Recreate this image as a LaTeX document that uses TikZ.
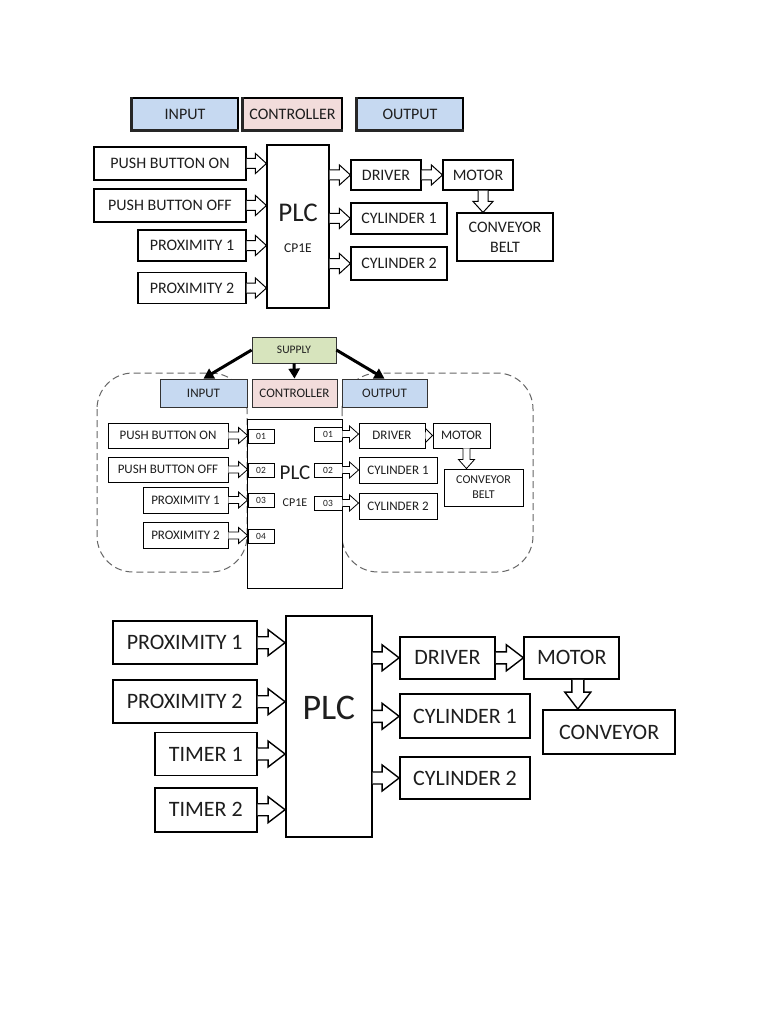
\documentclass[tikz,border=0pt]{standalone}
\usepackage{fontspec}
\setmainfont{Carlito}
\usetikzlibrary{calc,arrows.meta}
\definecolor{hblue}{HTML}{C6D9F1}
\definecolor{hpink}{HTML}{F2DCDB}
\definecolor{hgreen}{HTML}{D7E4BD}
\definecolor{txt}{HTML}{1E1E1E}
\newcommand\fsz[1]{\fontsize{#1}{#1}\selectfont}
% right-pointing hollow block arrow: [opts] from, to, shaft half, head half, head length
\newcommand{\rarr}[6][]{\draw[blk,#1] let \p1=(#2), \p2=(#3) in
  (\x1,\y1+#4) -- (\x2-#6,\y1+#4) -- (\x2-#6,\y1+#5) -- (\x2,\y1) -- (\x2-#6,\y1-#5) -- (\x2-#6,\y1-#4) -- (\x1,\y1-#4);}
% down-pointing hollow block arrow
\newcommand{\darr}[6][]{\draw[blk,#1] let \p1=(#2), \p2=(#3) in
  (\x1-#4,\y1) -- (\x1-#4,\y2+#6) -- (\x1-#5,\y2+#6) -- (\x1,\y2) -- (\x1+#5,\y2+#6) -- (\x1+#4,\y2+#6) -- (\x1+#4,\y1);}
\begin{document}
\begin{tikzpicture}[x=1pt,y=-1pt,
  every node/.style={text=txt},
  bx/.style={draw=black, fill=white, inner sep=0pt, line width=1.1pt},
  tb/.style={bx, font=\fsz{16}},
  mb/.style={bx, line width=0.9pt, font=\fsz{13}},
  hb/.style={bx, draw=black!80, line width=0.8pt, font=\fsz{13}},
  bb/.style={bx, line width=1.8pt, font=\fsz{22}},
  port/.style={bx, line width=0.8pt, minimum width=26pt, minimum height=14pt, font=\fsz{9.5}},
  blk/.style={draw=black, fill=white, line width=1pt, line join=miter},
  shade/.style={draw=black!85, line width=2.2pt},
  reg/.style={draw=black!60, dash pattern=on 7pt off 4pt, line width=1pt, rounded corners=36pt},
  sup/.style={draw=black, line width=3pt, -{Triangle[length=10pt,width=11pt]}}]
\useasboundingbox (0,0) rectangle (768,1024);
\fill[white] (0,0) rectangle (768,1024);

% ---------------- top diagram ----------------
\node[tb, fill=hblue, minimum width=106pt, minimum height=32pt] (hin) at (185,114) {INPUT};
\node[tb, fill=hpink, minimum width=99pt, minimum height=32pt] (hctl) at (292.5,114) {CONTROLLER};
\node[tb, fill=hblue, minimum width=106pt, minimum height=32pt] (hout) at (410,114) {OUTPUT};
\foreach \h in {hin,hctl,hout} {\draw[shade] (\h.north west) -- (\h.south west) -- (\h.south east);}

\node[tb, minimum width=152pt, minimum height=33pt] (pbon) at (170,163.5) {PUSH BUTTON ON};
\node[tb, minimum width=152pt, minimum height=33pt] (pboff) at (170,205.5) {PUSH BUTTON OFF};
\node[tb, minimum width=108pt, minimum height=31pt] (prox1) at (192,245.5) {PROXIMITY 1};
\node[tb, minimum width=108pt, minimum height=31pt] (prox2) at (192,288) {PROXIMITY 2};
\node[tb, minimum width=62pt, minimum height=163pt] (plc) at (298,226.5) {};
\node[font=\fsz{27}] (plct) at (298,213) {PLC};
\node[font=\fsz{13.5}] (plcs) at (298,248) {CP1E};
\node[tb, minimum width=70pt, minimum height=30pt] (drv) at (386,175) {DRIVER};
\node[tb, minimum width=70pt, minimum height=30pt] (mot) at (478,175) {MOTOR};
\node[tb, minimum width=96pt, minimum height=31pt] (cyl1) at (399,218.5) {CYLINDER 1};
\node[tb, minimum width=96pt, minimum height=33pt] (cyl2) at (399,263.5) {CYLINDER 2};
\node[tb, minimum width=96pt, minimum height=48pt, align=center] (conv) at (505,237) {CONVEYOR\\[4pt]BELT};

\foreach \s in {pbon,pboff,prox1,prox2} {\rarr{\s.east}{plc.west}{5pt}{10pt}{11pt}}
\foreach \t in {drv,cyl1,cyl2} {\rarr{plc.east |- \t.west}{\t.west}{5pt}{10pt}{11pt}}
\rarr{drv.east}{mot.west}{5pt}{10pt}{11pt}
\darr{[xshift=5pt]mot.south}{[xshift=5pt]mot.south |- conv.north}{5pt}{10pt}{11pt}

% ---------------- middle diagram ----------------
\draw[reg] (97,373) rectangle (247,572);
\draw[reg] (342,373) rectangle (533,572);
\node[mb, minimum width=95pt, minimum height=169pt] (mplc) at (294.5,503.5) {};
\node[font=\fsz{21}] (mplct) at (295,473) {PLC};
\node[font=\fsz{12}] (mplcs) at (295,503) {CP1E};
\node[hb, fill=hgreen, minimum width=84pt, minimum height=26pt, font=\fsz{11.5}] (supply) at (294,350) {SUPPLY};
\node[hb, fill=hblue, minimum width=87pt, minimum height=28pt] (min) at (203.5,393) {INPUT};
\node[hb, fill=hpink, minimum width=85pt, minimum height=28pt] (mctl) at (294.5,393) {CONTROLLER};
\node[hb, fill=hblue, minimum width=85pt, minimum height=28pt] (mout) at (384.5,393) {OUTPUT};

\draw[sup] (supply.west) -- (min.north);
\draw[sup] (supply.south) -- (mctl.north);
\draw[sup] (supply.east) -- (mout.north);

\node[port] (i1) at (261,436) {01};
\node[port] (i2) at (261,470) {02};
\node[port] (i3) at (261,500) {03};
\node[port] (i4) at (261,536) {04};
\node[port, minimum width=28pt] (o1) at (328,434) {01};
\node[port, minimum width=28pt] (o2) at (328,470) {02};
\node[port, minimum width=28pt] (o3) at (328,503) {03};

\node[mb, minimum width=120pt, minimum height=25pt] (mpbon) at (168,435.5) {PUSH BUTTON ON};
\node[mb, minimum width=120pt, minimum height=25pt] (mpboff) at (168,469.5) {PUSH BUTTON OFF};
\node[mb, minimum width=85pt, minimum height=26pt] (mprox1) at (185.5,500) {PROXIMITY 1};
\node[mb, minimum width=85pt, minimum height=26pt] (mprox2) at (185.5,535.5) {PROXIMITY 2};
\node[mb, minimum width=66pt, minimum height=25pt] (mdrv) at (392,435.5) {DRIVER};
\node[mb, minimum width=57pt, minimum height=25pt] (mmot) at (461.5,435.5) {MOTOR};
\node[mb, minimum width=78pt, minimum height=26pt] (mcyl1) at (398,470) {CYLINDER 1};
\node[mb, minimum width=78pt, minimum height=26pt] (mcyl2) at (398,506) {CYLINDER 2};
\node[mb, minimum width=79pt, minimum height=37pt, align=center, font=\fsz{12}] (mconv) at (483.5,487.5) {CONVEYOR\\[3pt]BELT};

\rarr[line width=0.8pt]{mpbon.east}{i1.west}{3.5pt}{8pt}{9pt}
\rarr[line width=0.8pt]{mpboff.east}{i2.west}{3.5pt}{8pt}{9pt}
\rarr[line width=0.8pt]{mprox1.east}{i3.west}{3.5pt}{8pt}{9pt}
\rarr[line width=0.8pt]{mprox2.east}{i4.west}{3.5pt}{8pt}{9pt}
\rarr[line width=0.8pt]{o1.east}{mdrv.west}{3.5pt}{8pt}{9pt}
\rarr[line width=0.8pt]{o2.east}{mcyl1.west}{3.5pt}{8pt}{9pt}
\rarr[line width=0.8pt]{o3.east}{mcyl2.west}{3.5pt}{8pt}{9pt}
\rarr[line width=0.8pt]{mdrv.east}{mmot.west}{3.5pt}{7pt}{7pt}
\darr[line width=0.8pt]{[xshift=5pt]mmot.south}{[xshift=5pt]mmot.south |- mconv.north}{3.5pt}{8pt}{9pt}

% ---------------- bottom diagram ----------------
\node[bb, minimum width=144pt, minimum height=43pt] (bprox1) at (184.7,642.7) {PROXIMITY 1};
\node[bb, minimum width=144pt, minimum height=43pt] (bprox2) at (184.7,701.7) {PROXIMITY 2};
\node[bb, minimum width=101.7pt, minimum height=43pt] (btim1) at (205.8,754) {TIMER 1};
\node[bb, minimum width=101.7pt, minimum height=44pt] (btim2) at (205.8,809.7) {TIMER 2};
\node[bb, minimum width=85.7pt, minimum height=221pt] (bplc) at (328.8,726.2) {};
\node[font=\fsz{36}] (bplct) at (328.8,708) {PLC};
\node[bb, minimum width=95pt, minimum height=42.3pt] (bdrv) at (447.5,657.8) {DRIVER};
\node[bb, minimum width=95pt, minimum height=42.3pt] (bmot) at (571.8,657.8) {MOTOR};
\node[bb, minimum width=130pt, minimum height=44pt] (bcyl1) at (465,716.3) {CYLINDER 1};
\node[bb, minimum width=130pt, minimum height=42.6pt] (bcyl2) at (465,778) {CYLINDER 2};
\node[bb, minimum width=131.7pt, minimum height=44pt] (bconv) at (609.2,732) {CONVEYOR};

\foreach \s in {bprox1,bprox2,btim1,btim2} {\rarr[line width=1.4pt]{\s.east}{bplc.west}{6pt}{13pt}{17pt}}
\foreach \t in {bdrv,bcyl1,bcyl2} {\rarr[line width=1.4pt]{bplc.east |- \t.west}{\t.west}{6pt}{13pt}{17pt}}
\rarr[line width=1.4pt]{bdrv.east}{bmot.west}{6pt}{13pt}{17pt}
\darr[line width=1.4pt]{[xshift=6pt]bmot.south}{[xshift=6pt]bmot.south |- bconv.north}{6pt}{13pt}{17pt}
\end{tikzpicture}
\end{document}
